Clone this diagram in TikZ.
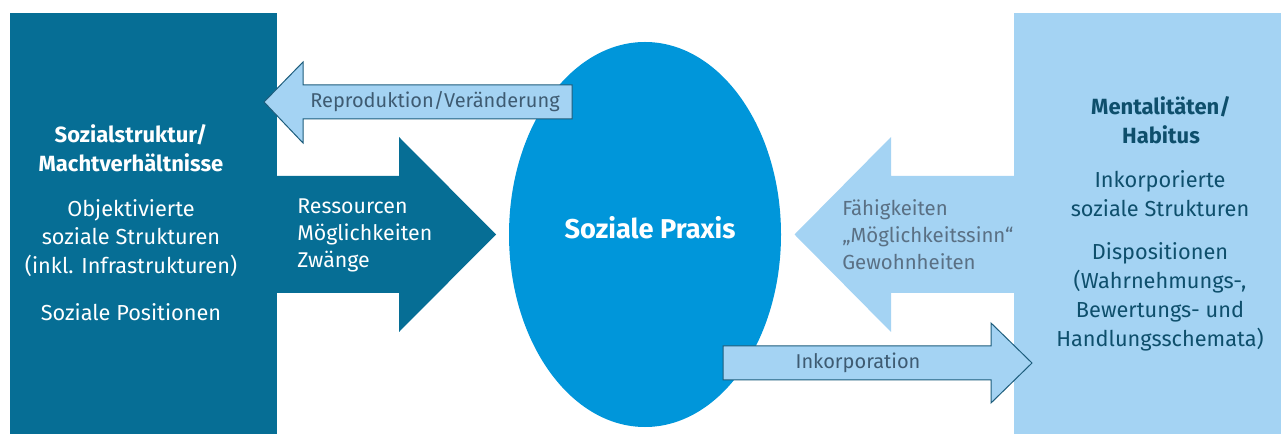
\documentclass[tikz,border=0pt]{standalone}
\usepackage{fontspec}
\setmainfont{Fira Sans}
\usetikzlibrary{positioning,calc,shapes.geometric}
\definecolor{strukColor}{HTML}{066E95}
\definecolor{praxisColor}{HTML}{0096DA}
\definecolor{habitusColor}{HTML}{A4D3F3}
\definecolor{randColor}{HTML}{1D5D7C}
\definecolor{habTextColor}{HTML}{0E4F6C}
\definecolor{pfeilTextColor}{HTML}{3E5B72}
\definecolor{grauTextColor}{HTML}{5A7084}
\tikzset{
	feld/.style={rectangle, inner sep=0, outer sep=0, minimum width=200.25pt, minimum height=315.75pt},
	boxtext/.style={align=center, inner sep=0, font=\fontsize{16.3}{21.6}\selectfont},
	boxhead/.style={boxtext, font=\fontsize{16.5}{21.6}\selectfont\bfseries},
	pfeiltext/.style={align=left, inner sep=0, font=\fontsize{16}{20.25}\selectfont},
	schmaltext/.style={inner sep=0, font=\fontsize{15}{18}\selectfont},
	umriss/.style={fill=habitusColor, draw=randColor, line width=0.75pt, line join=miter}
}
\begin{document}
\begin{tikzpicture}[x=0.75pt, y=-0.75pt]
	\useasboundingbox (0,0) rectangle (1281,434);
	% Felder links und rechts
	\node[feld, fill=strukColor] (struktur) at (143.5,223.5) {};
	\node[feld, fill=habitusColor] (habitus) at (1147.5,223.5) {};
	\node[ellipse, fill=praxisColor, inner sep=0, minimum width=204pt, minimum height=288.75pt] (praxis) at (645,234.5) {};
	
	% breite Pfeile
	\fill[strukColor] (struktur.east |- 0,176) -- (399,176) -- (399,137) -- (496,234.5)
		-- (399,332) -- (399,293) -- (struktur.east |- 0,293) -- cycle;
	\fill[habitusColor] (habitus.west |- 0,176) -- (891,176) -- (891,137) -- (794.5,234.5)
		-- (891,332) -- (891,293) -- (habitus.west |- 0,293) -- cycle;
	
	% schmale Pfeile mit Rand
	\draw[umriss] (572,85) -- (303,85) -- (303,62) -- (264,102) -- (303,143) -- (303,119) -- (572,119) -- cycle;
	\draw[umriss] (723,346) -- (991,346) -- (991,323) -- (1032,363) -- (991,403) -- (991,380) -- (723,380) -- cycle;
	
	% Texte
	\node[text=white, inner sep=0, font=\fontsize{20.4}{24}\selectfont\bfseries] (praxistext) at (650,228) {Soziale Praxis};
	\node[boxhead, text=white] (strukhead) at (131,148) {Sozialstruktur/\\Machtverhältnisse};
	\node[boxtext, text=white] (objektiv) at (131,238) {Objektivierte\\soziale Strukturen\\(inkl. Infrastrukturen)};
	\node[boxtext, text=white] (positionen) at (131,312) {Soziale Positionen};
	
	\node[boxhead, text=habTextColor] (habhead) at (1161,120) {Mentalitäten/\\Habitus};
	\node[boxtext, text=habTextColor] (inkorp) at (1160,193.5) {Inkorporierte\\soziale Strukturen};
	\node[boxtext, text=habTextColor] (dispo) at (1160,297) {Dispositionen\\(Wahrnehmungs-,\\Bewertungs- und\\Handlungsschemata)};
	
	\node[pfeiltext, text=white, anchor=west] (ressourcen) at (297,235) {Ressourcen\\Möglichkeiten\\Zwänge};
	\node[pfeiltext, text=grauTextColor, anchor=west, font=\fontsize{15.3}{20.25}\selectfont] (faehig) at (842,235) {Fähigkeiten\\„Möglichkeitssinn“\\Gewohnheiten};
	\node[schmaltext, text=pfeilTextColor] (repro) at (435,102) {Reproduktion/Veränderung};
	\node[schmaltext, text=pfeilTextColor] (inkorporation) at (858,363) {Inkorporation};
\end{tikzpicture}
\end{document}
